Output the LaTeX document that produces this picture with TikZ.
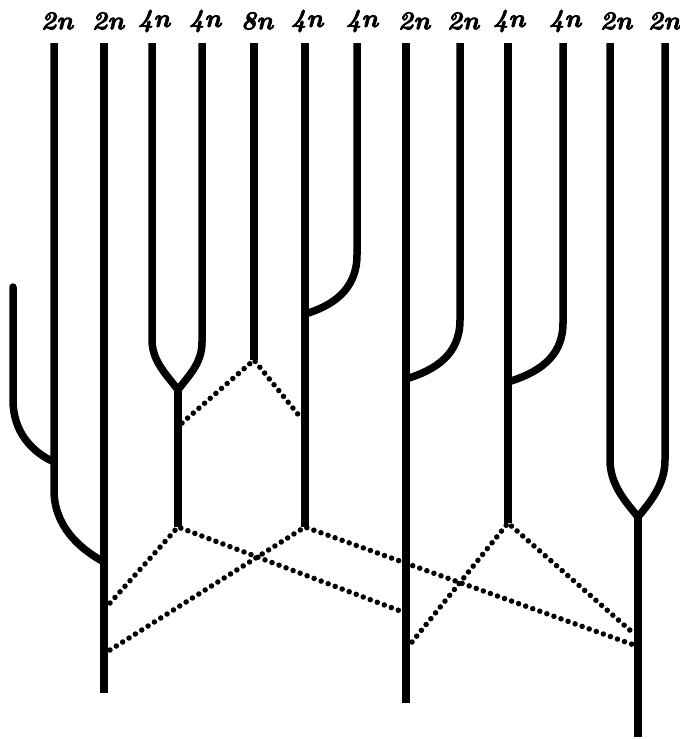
\documentclass[tikz,border=0pt]{standalone}
\usepackage{fontspec}
\setmainfont{Latin Modern Roman}
\newfontfamily\labfont{lmroman10-bolditalic}[Extension=.otf,FakeBold=2.5]
\begin{document}
\begin{tikzpicture}[x=1pt,y=-1pt,
  branch/.style={line width=7.5pt,line join=round},
  link/.style={line width=5.5pt,line cap=round,dash pattern=on 0pt off 7.5pt},
  ploidy/.style={font=\labfont\fontsize{26}{26}\selectfont,inner sep=0pt}]
\useasboundingbox (0,0) rectangle (680,739);
% labels
\foreach \x/\t [count=\i] in {57/2n,108/2n,154/4n,205/4n,257/8n,307/4n,362/4n,414/2n,463/2n,509/4n,565/4n,616/2n,664/2n}
  \node[ploidy] (L\i) at (\x,21) {\t};
% key points
\coordinate (s0top) at (13,287);
\coordinate (j0) at (54,462);
\coordinate (t1) at (54,43);
\coordinate (t2) at (104,43);
\coordinate (j1) at (104,562);
\coordinate (b2) at (104,693);
\coordinate (t3) at (152,43);
\coordinate (t4) at (202,43);
\coordinate (f34) at (178,390);
\coordinate (b34) at (178,527);
\coordinate (t5) at (254,43);
\coordinate (b5) at (254,360);
\coordinate (t6) at (305,43);
\coordinate (j67) at (305,314);
\coordinate (b6) at (305,527);
\coordinate (t7) at (357,43);
\coordinate (t8) at (406,43);
\coordinate (j89) at (406,379);
\coordinate (b8) at (406,703);
\coordinate (t9) at (460,43);
\coordinate (t10) at (508,43);
\coordinate (j1011) at (508,382);
\coordinate (b10) at (508,523);
\coordinate (t11) at (563,43);
\coordinate (t12) at (610,43);
\coordinate (t13) at (665,43);
\coordinate (f1213) at (638,517);
\coordinate (b1213) at (638,737);
% solid lineages
\draw[branch,line cap=round] (s0top) -- (13,400) .. controls (13,432) and (32,452) .. (j0);
\draw[branch] (t1) -- (54,490) .. controls (54,525) and (78,548) .. (j1);
\draw[branch] (t2) -- (b2);
\draw[branch] (t3) -- (152,340) .. controls (152,362) and (168,376) .. (f34);
\draw[branch] (t4) -- (202,342) .. controls (202,364) and (188,376) .. (f34);
\draw[branch] (f34) -- (b34);
\draw[branch] (t5) -- (b5);
\draw[branch] (t6) -- (b6);
\draw[branch] (t7) -- (357,255) .. controls (357,290) and (332,306) .. (j67);
\draw[branch] (t8) -- (b8);
\draw[branch] (t9) -- (460,320) .. controls (460,355) and (435,370) .. (j89);
\draw[branch] (t10) -- (b10);
\draw[branch] (t11) -- (563,323) .. controls (563,358) and (537,373) .. (j1011);
\draw[branch] (t12) -- (610,460) .. controls (610,485) and (626,502) .. (f1213);
\draw[branch] (t13) -- (665,460) .. controls (665,485) and (650,502) .. (f1213);
\draw[branch] (f1213) -- (b1213);
% dotted links
\coordinate (d1) at (182,423);
\coordinate (d2) at (301,418);
\coordinate (d3) at (110,603);
\coordinate (d4) at (403,612);
\coordinate (d5) at (110,650);
\coordinate (d6) at (634,645);
\coordinate (d7) at (412,642);
\coordinate (d8) at (632,632);
\draw[link] (d1) -- (b5) -- (d2);
\draw[link] (d3) -- (b34) -- (d4);
\draw[link] (d5) -- (b6) -- (d6);
\draw[link] (d7) -- (b10) -- (d8);
\end{tikzpicture}
\end{document}
